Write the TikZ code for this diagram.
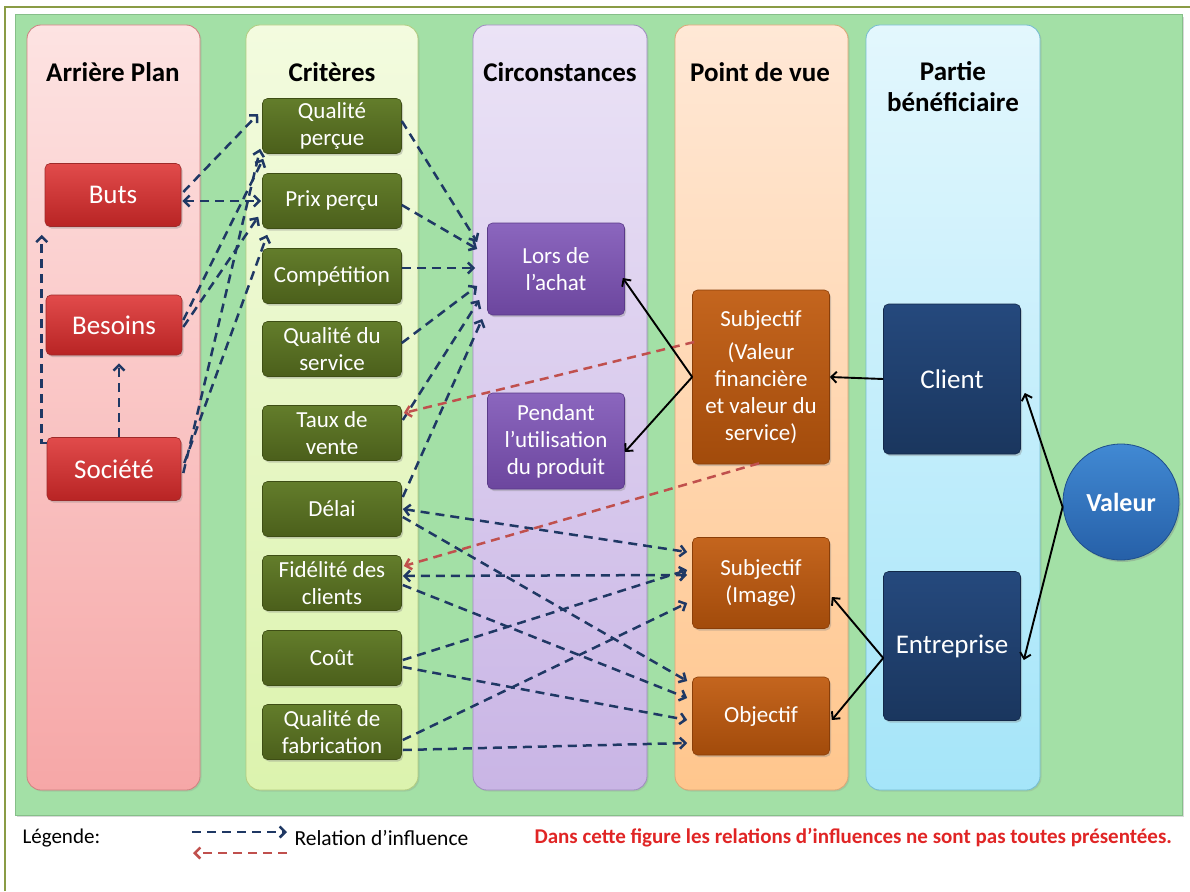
\documentclass[tikz,border=0pt]{standalone}
\usepackage{fontspec}
\setmainfont{Carlito}
\usetikzlibrary{arrows.meta, positioning, calc, shadows}

% colours
\definecolor{bggreen}{HTML}{A3E0A6}
\definecolor{bgline}{HTML}{86BF89}
\definecolor{frameline}{HTML}{8A9C45}
\definecolor{planT}{HTML}{FDE3E2}\definecolor{planB}{HTML}{F6A7A7}\definecolor{planL}{HTML}{D08080}
\definecolor{critT}{HTML}{F3FBDF}\definecolor{critB}{HTML}{DCF3AE}\definecolor{critL}{HTML}{B3CC80}
\definecolor{circT}{HTML}{EBE3F6}\definecolor{circB}{HTML}{C9B5E5}\definecolor{circL}{HTML}{9F8CC0}
\definecolor{pdvT}{HTML}{FFE8D6}\definecolor{pdvB}{HTML}{FFC68D}\definecolor{pdvL}{HTML}{DDA676}
\definecolor{partT}{HTML}{E3F7FD}\definecolor{partB}{HTML}{A5E5F9}\definecolor{partL}{HTML}{75BCD0}
\definecolor{redT}{HTML}{E14B4B}\definecolor{redB}{HTML}{B82424}\definecolor{redL}{HTML}{9E2A2A}
\definecolor{oliveT}{HTML}{637D2B}\definecolor{oliveB}{HTML}{4B5F1B}\definecolor{oliveL}{HTML}{3E4E15}
\definecolor{purT}{HTML}{8B66BE}\definecolor{purB}{HTML}{6C469E}\definecolor{purL}{HTML}{5A3A88}
\definecolor{oraT}{HTML}{C4651E}\definecolor{oraB}{HTML}{A24B0B}\definecolor{oraL}{HTML}{8A3E08}
\definecolor{navT}{HTML}{25497D}\definecolor{navB}{HTML}{1A365E}\definecolor{navL}{HTML}{13294A}
\definecolor{valT}{HTML}{4189D3}\definecolor{valB}{HTML}{2660A8}\definecolor{valL}{HTML}{1F4F8C}
\definecolor{infnavy}{HTML}{1F3864}
\definecolor{infred}{HTML}{C0504D}
\definecolor{notered}{HTML}{E02525}

\begin{document}
\begin{tikzpicture}[x=1pt, y=-1pt, >={Straight Barb[length=5.5pt,width=11pt]},
  column/.style n args={3}{rounded corners=14pt, top color=#1, bottom color=#2,
    draw=#3, line width=0.8pt, drop shadow={opacity=0.2, shadow xshift=1.5pt, shadow yshift=-1.5pt}},
  box/.style n args={3}{rectangle, rounded corners=5pt, top color=#1, bottom color=#2,
    draw=#3, line width=0.6pt, text=white, align=center, inner sep=2pt,
    font=\fontsize{23}{27}\selectfont,
    drop shadow={opacity=0.35, shadow xshift=1.5pt, shadow yshift=-2pt}},
  plan/.style={box={redT}{redB}{redL}, minimum width=136, font=\fontsize{27}{31}\selectfont},
  crit/.style={box={oliveT}{oliveB}{oliveL}, minimum width=139, minimum height=55},
  circ/.style={box={purT}{purB}{purL}, minimum width=137},
  pdv/.style={box={oraT}{oraB}{oraL}, minimum width=137},
  part/.style={box={navT}{navB}{navL}, minimum width=137, minimum height=150, font=\fontsize{27}{31}\selectfont},
  head/.style={align=center, font=\fontsize{27}{31}\selectfont\bfseries},
  inf/.style={infnavy, line width=2.5pt, dash pattern=on 9pt off 6pt, ->},
  infback/.style={infred, line width=2.5pt, dash pattern=on 9pt off 6pt, ->},
  link/.style={black, line width=1.9pt, ->},
  legend/.style={anchor=west, font=\fontsize{21}{25}\selectfont}]

  \useasboundingbox (0,0) rectangle (1190,891);

  % Frame and background
  \draw[frameline, line width=2pt] (5,891) -- (5,7) -- (1190,7);
  \draw[bgline, fill=bggreen, line width=1pt,
    drop shadow={opacity=0.3, shadow xshift=2pt, shadow yshift=-2pt}] (15,15) rectangle (1182,815);

  % Columns
  \draw[column={planT}{planB}{planL}] (27,25) rectangle (200,790);
  \draw[column={critT}{critB}{critL}] (246,25) rectangle (418,790);
  \draw[column={circT}{circB}{circL}] (473,25) rectangle (647,790);
  \draw[column={pdvT}{pdvB}{pdvL}] (675,25) rectangle (848,790);
  \draw[column={partT}{partB}{partL}] (866,25) rectangle (1040,790);

  % Headers
  \node[head] (hplan) at (113,72) {Arrière Plan};
  \node[head] (hcrit) at (332,72) {Critères};
  \node[head] (hcirc) at (560,72) {Circonstances};
  \node[head] (hpdv) at (760,72) {Point de vue};
  \node[head] (hpart) at (953,87) {Partie\\bénéficiaire};

  % Arriere plan
  \node[plan, minimum height=63] (buts) at (113,195) {Buts};
  \node[plan, minimum height=60] (besoins) at (114,325) {Besoins};
  \node[plan, minimum height=63, minimum width=134] (societe) at (114,469) {Société};

  % Criteres
  \node[crit] (qp) at (332,126) {Qualité\\perçue};
  \node[crit] (pp) at (332,201) {Prix perçu};
  \node[crit] (comp) at (332,276) {Compétition};
  \node[crit] (qs) at (332,349) {Qualité du\\service};
  \node[crit] (taux) at (332,433) {Taux de\\vente};
  \node[crit] (delai) at (332,509) {Délai};
  \node[crit] (fid) at (332,583) {Fidélité des\\clients};
  \node[crit] (cout) at (332,658) {Coût};
  \node[crit] (qf) at (332,732) {Qualité de\\fabrication};

  % Circonstances
  \node[circ, minimum height=92] (lors) at (556,269) {Lors de\\l’achat};
  \node[circ, minimum height=96] (pend) at (556,441) {Pendant\\l’utilisation\\du produit};

  % Point de vue
  \node[pdv, minimum height=174] (subj) at (761,377)
    {Subjectif\\[6pt](Valeur\\financière\\et valeur du\\service)};
  \node[pdv, minimum height=91] (subjimg) at (761,583) {Subjectif\\(Image)};
  \node[pdv, minimum height=78] (obj) at (761,716) {Objectif};

  % Partie beneficiaire
  \node[part] (client) at (952,379) {Client};
  \node[part, minimum height=149] (entr) at (952,646) {Entreprise};
  \node[circle, minimum size=116, top color=valT, bottom color=valB, draw=valL,
    line width=0.8pt, text=white, font=\fontsize{26}{30}\selectfont\bfseries,
    drop shadow={opacity=0.35, shadow xshift=1.5pt, shadow yshift=-2pt}]
    (valeur) at (1121,502) {Valeur};

  % Arriere plan -> criteres
  \draw[inf] ($(buts.east)+(2,-3)$) -- ($(qp.west)+(-4,-12)$);
  \draw[inf, <->] ($(buts.east)+(1,6)$) -- ($(pp.west)+(-1,0)$);
  \draw[inf] ($(besoins.east)+(1,-5)$) -- ($(qp.south west)+(1,5)$);
  \draw[inf] ($(besoins.east)+(1,2)$) -- ($(pp.south west)+(-4,-12)$);
  \draw[inf] ($(societe.east)+(2,4)$) -- ($(qp.south west)+(-2,-5)$);
  \draw[inf] ($(societe.east)+(3,-6)$) -- ($(pp.south west)+(5,6)$);
  \draw[inf] ($(societe.north)+(5,0)$) -- ($(besoins.south)+(5,8)$);
  \draw[inf] ($(societe.north west)+(0,6)$) -| ($(buts.south west)+(-3,8)$);

  % Criteres -> lors de l'achat
  \draw[inf] ($(qp.east)+(0,-5)$) -- ($(lors.west)+(-10,-27)$);
  \draw[inf] ($(pp.east)+(0,4)$) -- ($(lors.west)+(-10,-20)$);
  \draw[inf] ($(comp.east)+(0,-8)$) -- ($(lors.west)+(-12,-1)$);
  \draw[inf] ($(qs.east)+(0,-6)$) -- ($(lors.west)+(-10,17)$);
  \draw[inf] ($(taux.east)+(1,-13)$) -- ($(lors.west)+(-8,31)$);
  \draw[inf] ($(delai.east)+(1,-12)$) -- ($(lors.west)+(-5,50)$);

  % Criteres -> point de vue
  \draw[inf, <->] ($(delai.east)+(1,0)$) -- ($(subjimg.west)+(-5,-31)$);
  \draw[inf] ($(delai.east)+(1,8)$) -- ($(obj.west)+(-5,-35)$);
  \draw[inf, <->] ($(fid.east)+(1,-7)$) -- ($(subjimg.west)+(-5,-8)$);
  \draw[inf] ($(fid.east)+(1,2)$) -- ($(obj.west)+(-5,-18)$);
  \draw[inf] ($(cout.east)+(1,2)$) -- ($(subjimg.west)+(-5,-13)$);
  \draw[inf] ($(cout.east)+(1,9)$) -- ($(obj.west)+(-5,4)$);
  \draw[inf] ($(qf.east)+(1,8)$) -- ($(subjimg.west)+(-5,20)$);
  \draw[inf] ($(qf.east)+(1,18)$) -- ($(obj.west)+(-5,27)$);

  % Retour (rouge)
  \draw[infback] ($(subj.west)+(2,-35)$) -- ($(taux.east)+(2,-20)$);
  \draw[infback] ($(subj.south)+(-2,-1)$) -- ($(fid.east)+(2,-17)$);

  % Liens noirs
  \draw[link] (subj.west) -- ($(lors.east)+(-2,9)$);
  \draw[link] (subj.west) -- ($(pend.east)+(0,11)$);
  \draw[link] (client.west) -- (subj.east);
  \draw[link] ($(entr.west)+(0,12)$) -- ($(subjimg.east)+(2,14)$);
  \draw[link] ($(entr.west)+(0,12)$) -- ($(obj.east)+(2,4)$);
  \draw[link] ($(valeur.west)+(0,5)$) -- ($(client.east)+(4,14)$);
  \draw[link] ($(valeur.west)+(0,5)$) -- ($(entr.east)+(3,14)$);

  % Legende
  \node[legend] (leg) at (19,838) {Légende:};
  \coordinate (lega) at (192,832);
  \coordinate (legb) at (287,832);
  \coordinate (legc) at (287,853);
  \coordinate (legd) at (193,853);
  \draw[inf] (lega) -- (legb);
  \draw[infback] (legc) -- (legd);
  \node[legend, font=\fontsize{21.5}{25}\selectfont] (legtxt) at (291,838) {Relation d’influence};
  \node[legend, text=notered, font=\fontsize{21}{25}\selectfont\bfseries] (note) at (531,838)
    {Dans cette figure les relations d’influences ne sont pas toutes présentées.};
\end{tikzpicture}
\end{document}
